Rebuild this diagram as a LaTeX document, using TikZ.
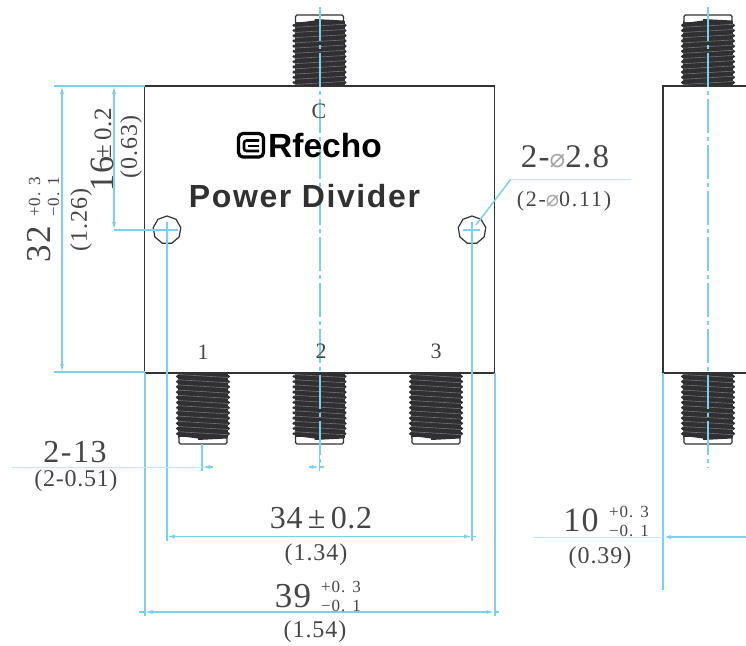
\documentclass[tikz,border=0pt]{standalone}
\usepackage{fontspec}
\setmainfont{Liberation Serif}
\setsansfont{Liberation Sans}
\newfontfamily\symfont{DejaVu Sans}
\usetikzlibrary{arrows.meta,shapes.geometric}
\definecolor{dimblue}{RGB}{120,210,235}
\definecolor{palecyan}{RGB}{190,235,245}
\definecolor{inkgray}{RGB}{70,70,70}
\definecolor{threaddark}{RGB}{48,48,50}
\definecolor{threadlight}{RGB}{115,115,118}
\newcommand{\pxfont}[2]{\fontsize{#1}{#1}\selectfont\addfontfeature{LetterSpace=#2}}
\newcommand{\dia}[1]{{\symfont\color{gray!70}\fontsize{#1}{#1}\selectfont ⌀}}
\tikzset{
    dimtip/.style={{Latex[length=8pt,width=4pt,color=dimblue]}-{Latex[length=8pt,width=4pt,color=dimblue]}},
    dimline/.style={dimblue,line width=1.2pt},
    extline/.style={dimblue,line width=2pt},
    paleline/.style={palecyan,line width=1pt},
    axisline/.style={dimblue,line width=2pt,dash pattern=on 34pt off 4pt on 4pt off 4pt},
    bodyline/.style={draw=black!80,line width=1.4pt},
    dimtext/.style={inkgray,inner sep=0pt},
    holemark/.style={draw=black!80,line width=1.2pt,regular polygon,regular polygon sides=9,minimum size=28pt,inner sep=0pt},
    sma/.pic={
        \fill[threaddark] (-25,-65) rectangle (25,0);
        \foreach \i in {0,...,11} {
            \fill[threaddark] (-25.5,-3.5-5.2*\i) circle (1.7);
            \fill[threaddark] (25.5,-3.5-5.2*\i) circle (1.7);
            \draw[threadlight,line width=0.6pt] (-25,-1.5-5.2*\i) -- (25,-4.5-5.2*\i);
        }
        \draw[black!80,fill=white,line width=1.1pt,rounded corners=1.5pt] (-24,-64) -- (-24,-71) -- (24,-71) -- (24,-64);
        \fill[threaddark] (-24,-63) -- (-5,-65.5) -- (-5,-67) -- (24,-65.5) -- (24,-62) -- cycle;
    }
}
\begin{document}
\begin{tikzpicture}[x=1pt,y=-1pt]
    \useasboundingbox (0,0) rectangle (746,645);
    \def\bodytop{86}
    \def\bodybot{373}

    \pic at(319.5,\bodytop) {sma};
    \pic[yscale=-1] at(203,\bodybot) {sma};
    \pic[yscale=-1] at(319.5,\bodybot) {sma};
    \pic[yscale=-1] at(436,\bodybot) {sma};
    \pic at(708,\bodytop) {sma};
    \pic[yscale=-1] at(708,\bodybot) {sma};

    \draw[bodyline] (144.5,\bodytop) rectangle (494.5,\bodybot);
    \draw[bodyline] (746,\bodytop) -- (663,\bodytop) -- (663,\bodybot) -- (746,\bodybot);

    \node[holemark] (holeleft) at(167,230) {};
    \node[holemark] (holeright) at(472,230) {};

    \draw[axisline] (319.5,7) -- (319.5,468);
    \draw[axisline,line width=1.4pt] (708,7) -- (708,468);

    \draw[dimline] (54,\bodytop) -- (144.5,\bodytop);
    \draw[dimline] (54,372) -- (144.5,372);
    \draw[dimline,dimtip] (62,\bodytop) -- (62,372);
    \draw[dimline,dimtip] (114,\bodytop) -- (114,230);
    \draw[dimline,line width=1.4pt] (114,230) -- (178,230);
    \draw[dimline] (167,222) -- (holeleft.center);
    \draw[dimline] (463,230) -- (480,230);
    \draw[dimline] (472,222) -- (holeright.center);

    \draw[extline] (holeleft.center) -- (167,541);
    \draw[extline] (holeright.center) -- (472,541);
    \draw[extline] (144.5,\bodybot) -- (144.5,616);
    \draw[extline] (494.5,\bodybot) -- (494.5,616);
    \draw[extline] (663,\bodybot) -- (663,590);
    \draw[extline,line width=1.6pt] (202,444) -- (202,471);
    \draw[extline,line width=1.6pt] (319.5,444) -- (319.5,471);

    \draw[paleline] (12,467) -- (202,467);
    \draw[dimline,-{Latex[length=8pt,width=4pt,color=dimblue]}] (213,467) -- (202,467);
    \draw[dimline,-{Latex[length=8pt,width=4pt,color=dimblue]}] (309,467) -- (319.5,467);
    \draw[dimline] (319.5,467) -- (324,467);
    \draw[dimline,dimtip] (167,536.5) -- (472,536.5);
    \draw[dimline] (472,536.5) -- (476,536.5);
    \draw[dimline,dimtip] (144.5,612) -- (494.5,612);
    \draw[dimline] (139,612) -- (144.5,612);
    \draw[dimline] (494.5,612) -- (499,612);
    \draw[paleline] (533,537) -- (663,537);
    \draw[dimline,line width=1.6pt,{Latex[length=8pt,width=4pt,color=dimblue]}-] (663,537) -- (746,537);

    \coordinate (leaderbend) at(511,179);
    \draw[dimline,line width=1.5pt] (476,225) -- (leaderbend);
    \draw[paleline] (leaderbend) -- (631,179);

    \node[dimtext,font=\pxfont{22}{0}] (portc) at(319,111) {C};
    \node[dimtext,font=\pxfont{22}{0}] (portone) at(203,352) {1};
    \node[dimtext,font=\pxfont{22}{0}] (porttwo) at(321,351) {2};
    \node[dimtext,font=\pxfont{22}{0}] (portthree) at(436,351) {3};

    \draw[black,line width=3.2pt,rounded corners=4.5pt] (238.5,133.5) rectangle (263.5,157);
    \draw[black,line width=2.6pt,rounded corners=2.5pt] (259,140.5) -- (244,140.5) -- (244,151) -- (259,151);
    \draw[black,line width=2.6pt] (248,145.8) -- (259,145.8);
    \node[inner sep=0pt,black,font=\sffamily\bfseries\fontsize{33.5}{33.5}\selectfont] (brand) at(325,146) {Rfecho};
    \node[inner sep=0pt,inkgray!70!black,font=\sffamily\bfseries\pxfont{32}{5}] (product) at(304.5,196) {Power Divider};

    \node[dimtext,font=\pxfont{32}{5}] (pitchtext) at(75,452) {2-13};
    \node[dimtext,font=\pxfont{24}{3}] (pitchinch) at(76,481) {(2-0.51)};

    \node[dimtext,font=\pxfont{32}{2}] (widthtext) at(321,518) {34\,±\,0.2};
    \node[dimtext,font=\pxfont{24}{4}] (widthinch) at(316,555) {(1.34)};
    \node[dimtext,font=\pxfont{35}{4}] (outertext) at(293,596) {39};
    \node[dimtext,align=center,font=\pxfont{17}{6}] (outertol) at(341,596) {+0. 3\\[2pt]−0. 1};
    \node[dimtext,font=\pxfont{24}{4}] (outerinch) at(315,632) {(1.54)};

    \node[dimtext,font=\pxfont{34}{4}] (depthtext) at(581,520) {10};
    \node[dimtext,align=center,font=\pxfont{17}{6}] (depthtol) at(629,521) {+0. 3\\[2pt]−0. 1};
    \node[dimtext,font=\pxfont{24}{4}] (depthinch) at(600,558) {(0.39)};

    \node[dimtext,font=\pxfont{33}{4}] (holetext) at(565,157) {2-\dia{26}2.8};
    \node[dimtext,font=\pxfont{22}{8}] (holeinch) at(564,201) {(2-\dia{22}0.11)};

    \node[dimtext,rotate=90,font=\pxfont{35}{4}] (heighttext) at(39,244) {32};
    \node[dimtext,rotate=90,align=center,font=\pxfont{17}{6}] (heighttol) at(44,197) {+0. 3\\[2pt]−0. 1};
    \node[dimtext,rotate=90,font=\pxfont{24}{4}] (heightinch) at(81,220) {(1.26)};
    \node[dimtext,rotate=90,font=\pxfont{34}{3}] (holedroptext) at(102,174) {16};
    \node[dimtext,rotate=90,font=\pxfont{25}{3}] (holedroptol) at(103,133) {±\,0.2};
    \node[dimtext,rotate=90,font=\pxfont{24}{4}] (holedropinch) at(131,147) {(0.63)};
\end{tikzpicture}
\end{document}
